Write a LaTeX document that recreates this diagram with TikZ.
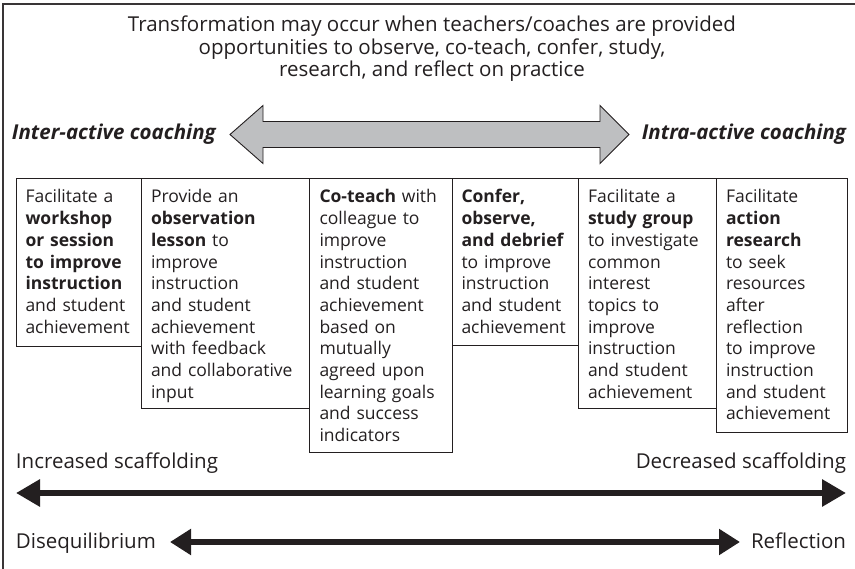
\documentclass[tikz,border=0pt]{standalone}
\usepackage{fontspec}
\setmainfont{Open Sans}
\usetikzlibrary{arrows.meta}
\definecolor{ink}{HTML}{231F20}
\definecolor{arrowgray}{HTML}{BEBFC1}

\begin{document}
\begin{tikzpicture}[x=1pt, y=-1pt,
  every node/.style={text=ink, inner sep=0pt, outer sep=0pt},
  body/.style={font=\fontsize{17.5}{21.7}\selectfont},
  label/.style={font=\fontsize{20.5}{21.7}\selectfont},
  emph/.style={font=\fontsize{20.5}{21.7}\selectfont\bfseries\itshape},
  stepbox/.style={draw=ink, line width=0.9pt},
  steptext/.style={body, anchor=north west, align=left, text width=200pt},
  frame/.style={draw=ink!90, line width=1.6pt},
  wide/.style={draw=ink, line width=6.5pt,
    {Triangle[length=24pt,width=26pt]}-{Triangle[length=24pt,width=26pt]}},
  narrow/.style={draw=ink, line width=5.5pt,
    {Triangle[length=21pt,width=25pt]}-{Triangle[length=21pt,width=25pt]}},
  bigarrow/.style={fill=arrowgray, draw=ink, line width=0.9pt, line join=miter}
]
\useasboundingbox (0,0) rectangle (855,569);

% outer frame (top and left edges)
\draw[frame] (855,4) -- (3,4) -- (3,569);

% heading
\node[label, anchor=north, align=center] (title) at (432,15.5)
  {\strut Transformation may occur when teachers/coaches are provided\\
   opportunities to observe, co-teach, confer, study,\\
   research, and reflect on practice};

% coaching continuum
\draw[bigarrow] (230,134.5) -- (263,105.5) -- (263,121.5) -- (600,121.5)
  -- (600,105.5) -- (629,134.5) -- (600,163.5) -- (600,147.5)
  -- (263,147.5) -- (263,163.5) -- cycle;
\node[emph, anchor=base west] (inter) at (12,140) {Inter-active coaching};
\node[emph, anchor=base east] (intra) at (846,140) {Intra-active coaching};

% activity boxes
\draw[stepbox] (16,178) rectangle (141,346);
\draw[stepbox] (141,178) rectangle (309.5,408);
\draw[stepbox] (309.5,178) rectangle (452,452);
\draw[stepbox] (452,178) rectangle (578.5,345);
\draw[stepbox] (578.5,178) rectangle (716.5,408);
\draw[stepbox] (716.5,178) rectangle (847,432);

\node[steptext] (s1) at (25.5,187.8)
  {\strut Facilitate a\\ \textbf{workshop}\\ \textbf{or session}\\
   \textbf{to improve}\\ \textbf{instruction}\\ and student\\ achievement};
\node[steptext] (s2) at (151,187.8)
  {\strut Provide an\\ \textbf{observation}\\ \textbf{lesson} to\\ improve\\
   instruction\\ and student\\ achievement\\ with feedback\\
   and collaborative\\ input};
\node[steptext] (s3) at (319.5,187.8)
  {\strut \textbf{Co-teach} with\\ colleague to\\ improve\\ instruction\\
   and student\\ achievement\\ based on\\ mutually\\ agreed upon\\
   learning goals\\ and success\\ indicators};
\node[steptext] (s4) at (461.5,187.8)
  {\strut \textbf{Confer,}\\ \textbf{observe,}\\ \textbf{and debrief}\\
   to improve\\ instruction\\ and student\\ achievement};
\node[steptext] (s5) at (588,187.8)
  {\strut Facilitate a\\ \textbf{study group}\\ to investigate\\ common\\
   interest\\ topics to\\ improve\\ instruction\\ and student\\ achievement};
\node[steptext] (s6) at (726,187.8)
  {\strut Facilitate\\ \textbf{action}\\ \textbf{research}\\ to seek\\
   resources\\ after\\ reflection\\ to improve\\ instruction\\
   and student\\ achievement};

% scaffolding scale
\node[label, anchor=base west] (incr) at (16,468) {Increased scaffolding};
\node[label, anchor=base east] (decr) at (846,468) {Decreased scaffolding};
\coordinate (scafL) at (16,493);
\coordinate (scafR) at (846,493);
\draw[wide] (scafL) -- (scafR);

% disequilibrium -- reflection scale
\node[label, anchor=base west] (diseq) at (16,548) {Disequilibrium};
\node[label, anchor=base east] (refl) at (846,548) {Reflection};
\coordinate (dL) at (170,542);
\coordinate (dR) at (740,542);
\draw[narrow] (dL) -- (dR);
\end{tikzpicture}
\end{document}
